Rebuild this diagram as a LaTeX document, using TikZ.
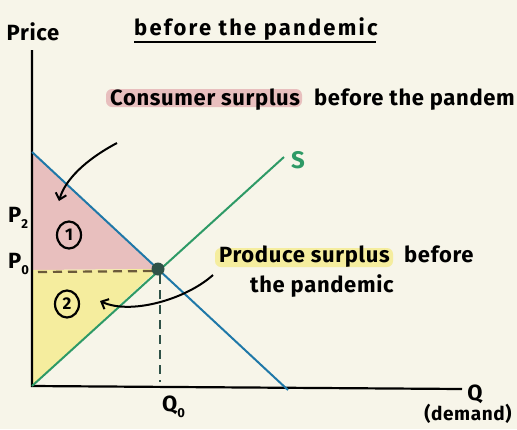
\documentclass[tikz,border=0pt]{standalone}
\usepackage{fontspec}
\setmainfont{Fira Sans}[LetterSpace=3]
\usetikzlibrary{arrows.meta,calc,shapes.geometric}
\definecolor{bg}{HTML}{F7F5E9}
\definecolor{dblue}{HTML}{1F78A8}
\definecolor{sgreen}{HTML}{2E9A66}
\definecolor{pinkf}{HTML}{E8BFBE}
\definecolor{yelf}{HTML}{F5ED9E}
\definecolor{dotc}{HTML}{2F5248}
\definecolor{dashc}{HTML}{6B5A3A}
\newcommand{\fs}[1]{\bfseries\fontsize{#1}{#1}\selectfont}
\tikzset{
  lbl/.style={font=\fs{22}, inner sep=0pt},
  axis/.style={line width=2.2pt, black},
  curvearrow/.style={line width=2pt, -{Straight Barb[length=6pt,width=11pt]}},
  numc/.style={ellipse, draw, line width=2.2pt, minimum width=24pt, minimum height=27pt, inner sep=0pt, font=\fs{17}},
}
\begin{document}
\begin{tikzpicture}[x=1pt,y=-1pt]
\fill[bg] (0,0) rectangle (517,429);
\useasboundingbox (0,0) rectangle (517,429);
\clip (0,0) rectangle (517,429);
% coordinates
\coordinate (O) at (32,386);
\coordinate (Ytop) at (32,50);
\coordinate (Xend) at (462,389);
\coordinate (Dtop) at (32,152);
\coordinate (Dbot) at (288,390);
\coordinate (Stop) at (284,157);
\coordinate (E) at (158,269);
\coordinate (P0) at (32,270);
\coordinate (Q0) at (160,382);
% areas
\fill[pinkf] (Dtop) -- (E) -- (P0) -- cycle;
\fill[yelf] (P0) -- (E) -- (O) -- cycle;
% dashed lines
\draw[dashc, line width=2.2pt, dash pattern=on 9pt off 6pt] ($(P0)+(6,2)$) -- ($(E)+(-4,2)$);
\draw[dotc, line width=2.2pt, dash pattern=on 9pt off 6pt] ($(E)+(2,6)$) -- (Q0);
% axes
\draw[axis] (Ytop) -- (O) -- (Xend);
% curves
\draw[dblue, line width=2pt] (Dtop) -- (Dbot);
\draw[sgreen, line width=2pt] (O) -- (Stop);
\node[circle, fill=dotc, minimum size=13pt, inner sep=0pt] (Edot) at (E) {};
% labels
\node[lbl, anchor=base] (price) at (33,40) {Price};
\node[lbl, sgreen, font=\fs{24}, anchor=base] (S) at (298,168) {S};
\node[lbl, anchor=base west] (p2) at (8,222) {P\raisebox{-6pt}{\fs{13}2}};
\node[lbl, anchor=base west] (p0) at (8,268) {P\raisebox{-6pt}{\fs{13}0}};
\node[lbl, anchor=base west] (q0) at (162,411) {Q\raisebox{-6pt}{\fs{13}0}};
\node[lbl, anchor=base] (q) at (475,400) {Q};
\node[lbl, font=\fs{19}, anchor=base] (dem) at (468,420) {(demand)};
% title
\node[lbl, font=\fs{22}\addfontfeatures{LetterSpace=10}, anchor=base west] (title) at (134,35) {before the pandemic};
\draw[line width=2.2pt] (134,42) -- (376,42);
% consumer surplus
\fill[pinkf, rounded corners=6pt] (106,89) rectangle (302,107);
\node[lbl, anchor=base west] (cs) at (110,105) {Consumer surplus};
\node[lbl, anchor=base east] (cs2) at (515,105) {before the pandem};
% producer surplus
\fill[yelf, rounded corners=6pt] (215,248) rectangle (393,267);
\node[lbl, anchor=base west] (ps) at (219,262) {Produce surplus};
\node[lbl, anchor=base west] (ps2) at (404,262) {before};
\node[lbl, anchor=base west] (ps3) at (250,292) {the pandemic};
% circled numbers
\node[numc] (n1) at (69,235) {1};
\node[numc] (n2) at (67,304) {2};
% arrows
\coordinate (a1s) at (117,143);
\coordinate (a1e) at (59,201);
\draw[curvearrow] (a1s) .. controls (85,160) and (65,180) .. (a1e);
\coordinate (a2s) at (213,275);
\coordinate (a2e) at (100,301);
\draw[curvearrow] (a2s) .. controls (185,300) and (130,315) .. (a2e);
\end{tikzpicture}
\end{document}
